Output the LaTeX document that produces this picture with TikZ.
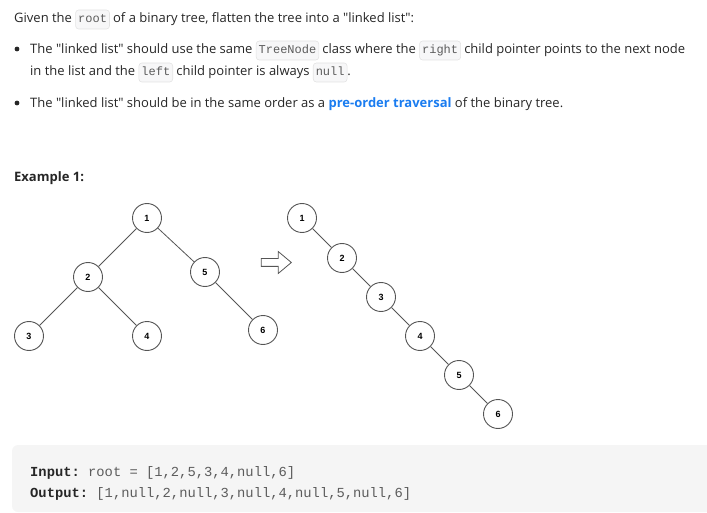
\documentclass[tikz,border=0pt]{standalone}
\usepackage{fontspec}
\setmainfont{Open Sans}
\setmonofont{Liberation Mono}
\newfontfamily\circfont{Liberation Sans}
\usetikzlibrary{positioning,shapes.arrows}
\definecolor{Ink}{HTML}{262626}
\definecolor{CodeInk}{HTML}{5C5C5C}
\definecolor{CodeBg}{HTML}{F7F7F8}
\definecolor{CodeLine}{HTML}{E3E3E3}
\definecolor{Link}{HTML}{1A7CF0}
\definecolor{EdgeGray}{HTML}{555555}
\definecolor{BoxBg}{HTML}{F5F5F5}
\newcommand{\icode}[1]{\tikz[baseline]\node[anchor=base,fill=CodeBg,draw=CodeLine,rounded corners=3pt,inner xsep=2.5pt,inner ysep=0pt,text height=13pt,text depth=6pt,font=\fontsize{12}{14}\ttfamily,text=CodeInk,line width=0.6pt]{#1};}
\newcommand{\qq}[1]{\textquotedbl#1\textquotedbl}

\begin{document}
\begin{tikzpicture}[x=1pt,y=-1pt,
    para/.style={anchor=base west,inner sep=0pt,text=Ink,font=\fontsize{13}{16}\selectfont},
    treenode/.style={circle,draw=EdgeGray,fill=white,line width=0.9pt,minimum size=29pt,inner sep=0pt,font=\circfont\bfseries\fontsize{9}{10}\selectfont},
    edge/.style={draw=EdgeGray,line width=0.8pt},
    mono/.style={anchor=base west,inner sep=0pt,text=Ink,font=\fontsize{13.8}{16}\ttfamily}
]
\useasboundingbox (0,0) rectangle (707,513);

% description
\node[para] (intro) at (14,23) {Given the \icode{root} of a binary tree, flatten the tree into a \qq{linked list}:};
\node[para] (b1a) at (30,54) {The \qq{linked list} should use the same \icode{TreeNode} class where the \icode{right} child pointer points to the next node};
\node[para] (b1b) at (30,76) {in the list and the \icode{left} child pointer is always \icode{null}.};
\node[para] (b2) at (30,108) {The \qq{linked list} should be in the same order as a \textbf{\color{Link}pre-order traversal} of the binary tree.};
\fill[Ink] (17,49) circle (2.4pt);
\fill[Ink] (17,103) circle (2.4pt);
\node[para,font=\fontsize{13}{16}\selectfont\bfseries] (ex) at (14,182) {Example 1:};

% tree before
\node[treenode] (t1) at (147,218) {1};
\node[treenode] (t2) at (88,277) {2};
\node[treenode] (t5) at (205,272) {5};
\node[treenode] (t3) at (29,336) {3};
\node[treenode] (t4) at (147,336) {4};
\node[treenode] (t6) at (263,330) {6};
\draw[edge] (t1) -- (t2);
\draw[edge] (t1) -- (t5);
\draw[edge] (t2) -- (t3);
\draw[edge] (t2) -- (t4);
\draw[edge] (t5) -- (t6);

\node[single arrow,draw=EdgeGray,line width=0.8pt,fill=white,text height=4pt,text depth=3pt,minimum width=18pt,minimum height=30pt,single arrow tip angle=80,inner sep=0pt] (turn) at (274,262.5) {};

% tree after
\node[treenode] (l1) at (302,218) {1};
\node[treenode] (l2) at (342,258) {2};
\node[treenode] (l3) at (381,297) {3};
\node[treenode] (l4) at (420,336) {4};
\node[treenode] (l5) at (459,375) {5};
\node[treenode] (l6) at (498,414) {6};
\foreach \a/\b in {l1/l2,l2/l3,l3/l4,l4/l5,l5/l6}{\draw[edge] (\a) -- (\b);}

% example box
\fill[BoxBg,rounded corners=6pt] (12,445) rectangle (720,512);
\node[mono] (inp) at (30,476) {\textbf{Input:} {\color{CodeInk}root = [1,2,5,3,4,null,6]}};
\node[mono] (outp) at (30,497) {\textbf{Output:} {\color{CodeInk}[1,null,2,null,3,null,4,null,5,null,6]}};
\end{tikzpicture}
\end{document}
